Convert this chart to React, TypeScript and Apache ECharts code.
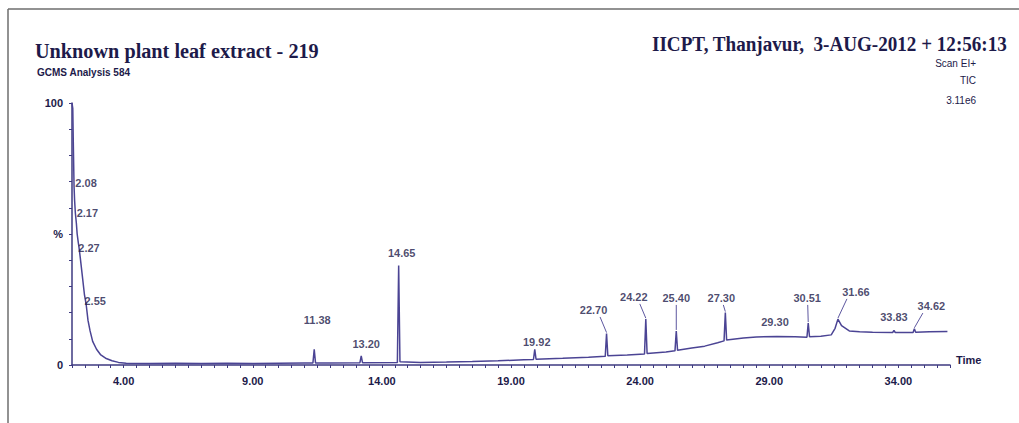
import React, { useEffect, useRef } from "react";
import * as echarts from "echarts";

// Chromatogram trace (retention time in minutes, relative intensity in %)
const curveTime = [
  2.0, 2.03, 2.05, 2.08, 2.1, 2.13, 2.17, 2.2, 2.24, 2.27, 2.32, 2.4, 2.48, 2.55, 2.62, 2.7, 2.8, 2.95, 3.1, 3.3,
  3.55, 3.8, 4.1, 5.0, 6.0, 7.0, 8.0, 9.0, 10.0, 11.0, 11.33, 11.38, 11.43, 12.0, 13.15, 13.2, 13.25, 14.6, 14.65,
  14.7, 15.5, 16.5, 17.5, 18.5, 19.5, 19.87, 19.92, 19.97, 21.0, 22.0, 22.65, 22.7, 22.75, 23.5, 24.17, 24.22,
  24.27, 25.0, 25.35, 25.4, 25.45, 26.0, 26.5, 27.0, 27.25, 27.3, 27.35, 28.0, 28.5, 29.3, 30.0, 30.46, 30.51,
  30.56, 31.0, 31.4, 31.55, 31.66, 31.8, 32.1, 32.5, 33.0, 33.78, 33.83, 33.88, 34.57, 34.62, 34.67, 35.2, 35.9,
];
const curveIntensity = [
  100, 98, 85, 68, 63, 58, 54, 50, 47, 45, 41, 34, 27, 23, 17, 13, 9, 6, 4, 2.6,
  1.6, 1.0, 0.7, 0.6, 0.7, 0.6, 0.7, 0.6, 0.7, 0.8, 0.8, 6, 0.8, 0.8, 0.9, 3.5, 0.9, 1.0, 38,
  1.2, 1.0, 1.1, 1.3, 1.6, 2.0, 2.1, 6, 2.2, 2.6, 3.0, 3.3, 12, 3.5, 3.8, 4.2, 17.5,
  4.4, 5.0, 5.4, 13, 5.6, 6.5, 7.2, 8.5, 9.2, 20, 9.5, 10.3, 10.7, 10.9, 10.8, 10.6, 16,
  10.8, 11.0, 11.5, 14, 17.5, 15, 13, 12.7, 12.5, 12.4, 13.2, 12.4, 12.4, 13.8, 12.5, 12.7, 12.8,
];

// Labelled peaks: retention time and the level (%) at which its label sits
const peakTimes = [2.08, 2.17, 2.27, 2.55, 11.38, 13.2, 14.65, 19.92, 22.7, 24.22, 25.4, 27.3, 29.3, 30.51, 31.66, 33.83, 34.62];
const peakLabelLevels = [69.5, 58, 44.7, 24.4, 17.2, 8, 42.7, 8.8, 21, 26, 25.6, 25.6, 16.4, 25.6, 27.9, 18.3, 22.5];
// horizontal nudge of each label (px)
const peakLabelShift = [12, 11, 10, 9, 3, 5, 3, 2, -13, -12, 0, -4, -2, -1, 18, 0, 17];
// peaks whose label is tied to the trace by a small leader line
const leaderPeaks = [2.08, 2.17, 2.27, 2.55, 22.7, 24.22, 25.4, 27.3, 30.51, 31.66, 34.62];

const yTickLabels: Record<number, string> = { 0: "0", 50: "%", 100: "100" };
const xLabelStart = 4;
const xLabelStep = 5;

const INK = "#1d1a4a";
const AXIS = "#3e3a80";
const TRACE = "#4b4494";

export default function App() {
  const ref = useRef<HTMLDivElement>(null);
  useEffect(() => {
    if (!ref.current) return;
    const chart = echarts.init(ref.current, undefined, { renderer: "svg" });
    const curve = curveTime.map((t, i) => [t, curveIntensity[i]]);
    const labels = peakTimes.map((t, i) => ({
      value: [t, peakLabelLevels[i]],
      label: { offset: [peakLabelShift[i], 0] },
    }));
    const leaders = peakTimes
      .map((t, i) => [t, peakLabelLevels[i], curveIntensity[curveTime.indexOf(t)], peakLabelShift[i]])
      .filter((d) => leaderPeaks.includes(d[0] as number));
    chart.setOption({
      animation: false,
      backgroundColor: "#ffffff",
      grid: { left: 72, top: 103, right: 69, bottom: 58 },
      xAxis: {
        type: "value",
        min: 2,
        max: 36,
        interval: 0.5,
        name: "Time",
        nameLocation: "end",
        nameGap: 6,
        nameTextStyle: { color: INK, fontSize: 11, fontWeight: "bold", fontFamily: "Liberation Sans", verticalAlign: "bottom", padding: [0, 0, 0, 0] },
        axisLine: { show: true, onZero: false, lineStyle: { color: AXIS, width: 1.5 } },
        axisTick: { show: true, length: 3, lineStyle: { color: AXIS, width: 1 } },
        axisLabel: {
          color: INK,
          fontSize: 11,
          fontWeight: "bold",
          fontFamily: "Liberation Sans",
          margin: 10,
          formatter: (v: number) => {
            const k = (v - xLabelStart) / xLabelStep;
            return Math.abs(k - Math.round(k)) < 1e-6 && k >= 0 ? v.toFixed(2) : "";
          },
        },
        splitLine: { show: false },
      },
      yAxis: {
        type: "value",
        min: 0,
        max: 100,
        interval: 10,
        axisLine: { show: true, lineStyle: { color: AXIS, width: 1.5 } },
        axisTick: { show: true, length: 3, lineStyle: { color: AXIS, width: 1 } },
        axisLabel: {
          color: INK,
          fontSize: 11,
          fontWeight: "bold",
          fontFamily: "Liberation Sans",
          margin: 9,
          formatter: (v: number) => yTickLabels[v] ?? "",
        },
        splitLine: { show: false },
      },
      series: [
        {
          type: "line",
          data: curve,
          showSymbol: false,
          lineStyle: { color: TRACE, width: 1.5 },
          z: 3,
        },
        {
          type: "custom",
          data: leaders,
          silent: true,
          renderItem: (params: any, api: any) => {
            const lab = api.coord([api.value(0), api.value(1)]);
            const peak = api.coord([api.value(0), api.value(2)]);
            const lx = lab[0] + api.value(3);
            const x1 = lx + (peak[0] - lx) * 0.5;
            const y1 = lab[1] + 7;
            const y2 = peak[1] - 1;
            if (y2 - y1 < 3) return null;
            return {
              type: "line",
              shape: { x1, y1, x2: peak[0], y2 },
              style: { stroke: TRACE, lineWidth: 0.9 },
            };
          },
          z: 3,
        },
        {
          type: "scatter",
          data: labels,
          symbol: "circle",
          symbolSize: 1,
          itemStyle: { color: "rgba(255,255,255,0)" },
          label: {
            show: true,
            position: "inside",
            color: INK,
            fontSize: 11,
            fontWeight: "bold",
            fontFamily: "Liberation Sans",
            formatter: (p: any) => p.value[0].toFixed(2),
          },
          z: 4,
        },
      ],
      graphic: [
        { type: "line", shape: { x1: 8, y1: 9, x2: 1019, y2: 9 }, style: { stroke: "#6e6e6e", lineWidth: 1.5 } },
        { type: "line", shape: { x1: 8, y1: 9, x2: 8, y2: 423 }, style: { stroke: "#6e6e6e", lineWidth: 1.5 } },
        {
          type: "text",
          x: 35,
          y: 51,
          scaleX: 0.92,
          style: {
            text: "Unknown plant leaf extract - 219",
            fill: INK,
            font: "bold 22px 'Liberation Serif'",
            textVerticalAlign: "middle",
          },
        },
        {
          type: "text",
          x: 652,
          y: 44,
          scaleX: 0.91,
          style: {
            text: "IICPT, Thanjavur,  3-AUG-2012 + 12:56:13",
            fill: INK,
            font: "bold 21px 'Liberation Serif'",
            textVerticalAlign: "middle",
          },
        },
        {
          type: "text",
          x: 37,
          y: 72,
          style: { text: "GCMS Analysis 584", fill: INK, font: "bold 10px 'Liberation Sans'", textVerticalAlign: "middle" },
        },
        {
          type: "text",
          x: 976,
          y: 63,
          style: { text: "Scan EI+", fill: INK, font: "10px 'Liberation Sans'", textAlign: "right", textVerticalAlign: "middle" },
        },
        {
          type: "text",
          x: 976,
          y: 80,
          style: { text: "TIC", fill: INK, font: "10px 'Liberation Sans'", textAlign: "right", textVerticalAlign: "middle" },
        },
        {
          type: "text",
          x: 976,
          y: 100,
          style: { text: "3.11e6", fill: INK, font: "10px 'Liberation Sans'", textAlign: "right", textVerticalAlign: "middle" },
        },
      ],
    });
    return () => chart.dispose();
  }, []);
  return (
    <div
      ref={ref}
      style={{ position: "fixed", left: 0, top: 0, width: 1019, height: 423, background: "#fff" }}
    />
  );
}
